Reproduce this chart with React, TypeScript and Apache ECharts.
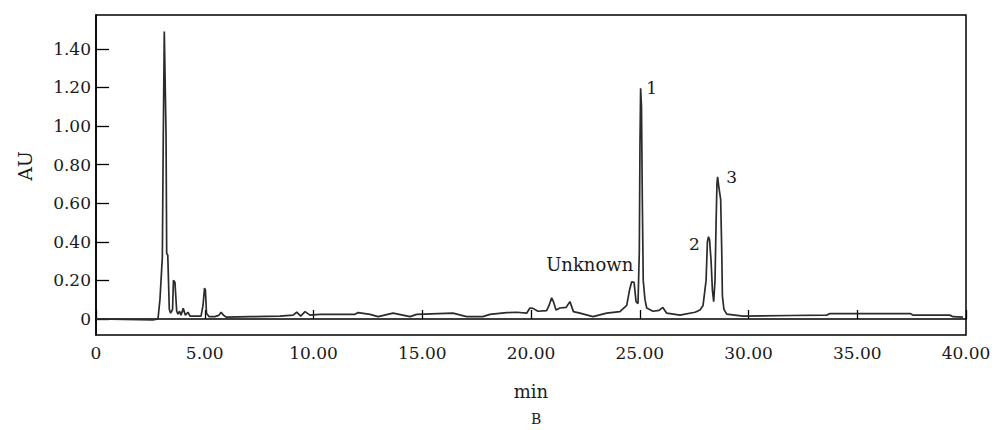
import React, { useEffect, useRef } from "react";
import * as echarts from "echarts";

// Retention time (min)
const times: number[] = [
  0, 2.62, 2.85, 2.94, 3.05, 3.09, 3.14, 3.22, 3.25, 3.3, 3.37, 3.43, 3.52, 3.56, 3.63,
  3.71, 3.77, 3.84, 3.91, 4.01, 4.11, 4.23, 4.32, 4.83, 4.92, 4.99, 5.03, 5.08, 5.2,
  5.47, 5.66, 5.75, 5.86, 5.98, 7.08, 8.46, 9.06, 9.23, 9.41, 9.61, 9.84, 10.3, 11.91,
  12.05, 12.6, 12.97, 13.66, 14.44, 14.74, 16.41, 17.04, 17.79, 18.11, 18.88, 19.34,
  19.8, 19.95, 20.09, 20.32, 20.72, 20.83, 20.95, 21.03, 21.15, 21.33, 21.61, 21.79,
  21.95, 22.25, 22.85, 23.48, 24.09, 24.4, 24.53, 24.63, 24.74, 24.83, 24.92, 24.98,
  25.01, 25.04, 25.08, 25.12, 25.16, 25.24, 25.32, 25.61, 25.89, 26.06, 26.24, 26.85,
  27.54, 27.77, 27.91, 28.05, 28.11, 28.16, 28.21, 28.28, 28.34, 28.4, 28.46, 28.51,
  28.55, 28.58, 28.64, 28.72, 28.77, 28.8, 28.87, 29.0, 29.75, 31.91, 33.59, 33.75,
  37.43, 37.56, 39.26, 39.4, 39.86,
];

// Absorbance (AU)
const absorbance: number[] = [
  0, -0.005, 0, 0.1, 0.32, 0.9, 1.49, 0.96, 0.34, 0.33, 0.05, 0.03, 0.05, 0.2, 0.19,
  0.04, 0.025, 0.04, 0.02, 0.055, 0.02, 0.035, 0.015, 0.015, 0.07, 0.16, 0.15, 0.03, 0.012,
  0.012, 0.02, 0.035, 0.02, 0.01, 0.012, 0.015, 0.02, 0.035, 0.015, 0.038, 0.02, 0.024, 0.024,
  0.033, 0.024, 0.012, 0.03, 0.012, 0.024, 0.03, 0.012, 0.012, 0.024, 0.033, 0.035,
  0.03, 0.057, 0.055, 0.04, 0.043, 0.07, 0.11, 0.09, 0.047, 0.057, 0.06, 0.09,
  0.038, 0.03, 0.012, 0.03, 0.038, 0.07, 0.15, 0.193, 0.19, 0.09, 0.08, 0.35,
  0.9, 1.195, 1.1, 0.6, 0.2, 0.1, 0.057, 0.04, 0.045, 0.06, 0.03, 0.02,
  0.035, 0.047, 0.07, 0.2, 0.4, 0.426, 0.41, 0.3, 0.15, 0.09, 0.2, 0.5,
  0.7, 0.737, 0.68, 0.62, 0.35, 0.12, 0.05, 0.025, 0.015, 0.018, 0.02, 0.028,
  0.028, 0.02, 0.02, 0.012, 0.01,
];

// Peak annotations
const peakNames: string[] = ["1", "2", "3", "Unknown"];
const peakTimes: number[] = [25.04, 28.16, 28.58, 24.63];

const xTicks: number[] = [0, 5, 10, 15, 20, 25, 30, 35, 40];
const yTicks: number[] = [0, 0.2, 0.4, 0.6, 0.8, 1.0, 1.2, 1.4];

const SERIF = "DejaVu Serif";

export default function App() {
  const ref = useRef<HTMLDivElement>(null);

  useEffect(() => {
    if (!ref.current) return;
    const chart = echarts.init(ref.current, null, { renderer: "svg" });

    const seriesData = times.map((t, i) => [t, absorbance[i]]);
    const offsets: Record<string, number[]> = {
      "1": [11, 0],
      "2": [-14, 7],
      "3": [14, 0],
      Unknown: [-42, -17],
    };
    const markData = peakNames.map((name, i) => {
      const idx = times.indexOf(peakTimes[i]);
      return {
        name,
        coord: [peakTimes[i], absorbance[idx]],
        label: {
          show: true,
          formatter: name,
          position: "inside",
          offset: offsets[name],
          fontFamily: SERIF,
          fontSize: name === "Unknown" ? 18 : 17,
          color: "#1a1a1a",
        },
      };
    });

    const fmt = (v: number) => (v === 0 ? "0" : v.toFixed(2));

    chart.setOption({
      animation: false,
      backgroundColor: "#ffffff",
      grid: {
        left: 96,
        right: 34,
        top: 15,
        bottom: 95,
        show: true,
        borderColor: "#000",
        borderWidth: 1.5,
        backgroundColor: "transparent",
      },
      xAxis: {
        type: "value",
        min: 0,
        max: 40,
        interval: 5,
        name: "min",
        nameLocation: "middle",
        nameGap: 47,
        nameTextStyle: { fontFamily: SERIF, fontSize: 18, color: "#1a1a1a" },
        axisLine: { show: true, lineStyle: { color: "#000", width: 1.5 } },
        axisTick: { show: true, inside: true, length: 9, lineStyle: { color: "#000", width: 1.3 }, customValues: xTicks },
        axisLabel: {
          customValues: xTicks,
          formatter: fmt,
          margin: 9,
          fontFamily: SERIF,
          fontSize: 17,
          color: "#1a1a1a",
        },
        splitLine: { show: false },
      },
      yAxis: {
        type: "value",
        min: -0.083,
        max: 1.575,
        name: "AU",
        nameLocation: "middle",
        nameRotate: 90,
        nameGap: 62,
        nameTextStyle: { fontFamily: SERIF, fontSize: 19, color: "#1a1a1a", padding: [0, 0, 0, 18] },
        axisLine: { show: true, lineStyle: { color: "#000", width: 1.5 } },
        axisTick: { show: true, inside: true, length: 13, lineStyle: { color: "#000", width: 1.3 }, customValues: yTicks },
        axisLabel: {
          customValues: yTicks,
          formatter: fmt,
          margin: 5,
          fontFamily: SERIF,
          fontSize: 17,
          color: "#1a1a1a",
        },
        splitLine: { show: false },
      },
      series: [
        {
          type: "line",
          data: seriesData,
          showSymbol: false,
          symbol: "none",
          lineStyle: { color: "#2b2b2b", width: 1.7 },
          markPoint: {
            symbol: "circle",
            symbolSize: 1,
            itemStyle: { color: "transparent" },
            data: markData,
          },
        },
      ],
      graphic: [
        {
          type: "text",
          left: 531,
          top: 412,
          style: { text: "B", fontFamily: SERIF, fontSize: 14, fill: "#1a1a1a" },
        },
      ],
    });

    return () => chart.dispose();
  }, []);

  return (
    <div
      ref={ref}
      style={{ position: "fixed", left: 0, top: 0, width: 1000, height: 430, background: "#fff" }}
    />
  );
}
